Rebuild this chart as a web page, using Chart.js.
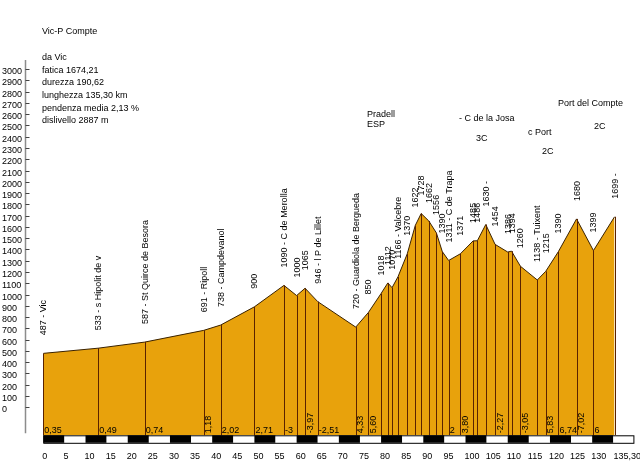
<!DOCTYPE html>
<html>
<head>
<meta charset="utf-8">
<title>Vic-P Compte</title>
<script src="https://cdn.jsdelivr.net/npm/chart.js@4.4.0/dist/chart.umd.min.js"></script>
<style>
    body { margin: 0; background: #fff; }
    #wrap { position: relative; width: 640px; height: 469px; }
</style>
</head>
<body>
<div id="wrap"><canvas id="profileChart"></canvas></div>
<script>
// Route profile: km from start, altitude in m, place names (null = no name)
const distances = [0, 13.0, 24.0, 38.0, 42.0, 50.0, 57.0, 60.0, 62.0, 65.0, 74.0, 77.0, 80.0, 81.6, 82.6, 84.0,
    86.2, 88.1, 89.5, 91.3, 93.1, 94.5, 96.0, 98.8, 101.8, 102.8, 104.8, 107.0, 110.0, 110.9, 113.0, 117.0,
    119.0, 122.0, 126.3, 130.3, 135.3];
const altitudes = [487, 533, 587, 691, 738, 900, 1090, 1000, 1065, 946, 720, 850, 1018, 1112, 1070, 1166,
    1370, 1622, 1728, 1662, 1556, 1390, 1311, 1371, 1485, 1486, 1630, 1454, 1386, 1394, 1260, 1138,
    1215, 1390, 1680, 1399, 1699];
const placeNames = ['Vic', 's Hipolit de v', 'St Quirce de Besora', 'Ripoll', 'Campdevanol', null, 'C de Merolla', null, null, 'l P de Lillet',
    'Guardiola de Bergueda', null, null, null, null, 'Valcebre', null, null, null, null, null, null, 'C de Trapa', null, null, null,
    '', null, null, null, null, 'Tuixent', null, null, null, null, ''];

// Gradient (%) of each segment, null where the original shows none
const gradients = ['0,35', '0,49', '0,74', '1,18', '2,02', '2,71', '-3', null, '-3,97', '-2,51', '4,33', '5,60',
    null, null, null, null, null, null, null, null, null, null, '2', '3,80', null, null, null, '-2,27',
    null, null, '-3,05', null, '5,83', '6,74', '-7,02', '6'];

// Axis ticks
const yTickValues = [0, 100, 200, 300, 400, 500, 600, 700, 800, 900, 1000, 1100, 1200, 1300, 1400, 1500,
    1600, 1700, 1800, 1900, 2000, 2100, 2200, 2300, 2400, 2500, 2600, 2700, 2800, 2900, 3000];
const xTickValues = [0, 5, 10, 15, 20, 25, 30, 35, 40, 45, 50, 55, 60, 65, 70, 75, 80, 85, 90, 95, 100,
    105, 110, 115, 120, 125, 130, 135.3];
const xTickLabels = ['0', '5', '10', '15', '20', '25', '30', '35', '40', '45', '50', '55', '60', '65', '70',
    '75', '80', '85', '90', '95', '100', '105', '110', '115', '120', '125', '130', '135,30'];
const scaleBarEnd = 140;

// Header texts
const routeTitle = 'Vic-P Compte';
const infoLines = ['da Vic', 'fatica 1674,21', 'durezza 190,62', 'lunghezza 135,30 km', 'pendenza media 2,13 %', 'dislivello 2887 m'];
const climbNames = ['Pradell', '- C de la Josa', 'c Port', 'Port del Compte'];
const climbCategories = ['ESP', '3C', '2C', '2C'];

const FONT = '9px "Liberation Sans", Arial, sans-serif';
const FILL = '#E8A20C';
const DROP = '#5a2200';

const profileDecor = {
    id: 'profileDecor',
    afterDatasetsDraw(chart) {
        const ctx = chart.ctx;
        const xs = chart.scales.x;
        const ys = chart.scales.y;
        const bottom = chart.chartArea.bottom;

        ctx.save();

        // drop lines from each point to the bottom
        ctx.strokeStyle = DROP;
        ctx.lineWidth = 1;
        distances.forEach((d, i) => {
            const px = Math.round(xs.getPixelForValue(d)) + 0.5;
            ctx.beginPath();
            ctx.moveTo(px, ys.getPixelForValue(altitudes[i]));
            ctx.lineTo(px, bottom);
            ctx.stroke();
        });

        ctx.font = FONT;
        ctx.fillStyle = '#000';

        // rotated point labels
        distances.forEach((d, i) => {
            const px = xs.getPixelForValue(d);
            const py = ys.getPixelForValue(altitudes[i]);
            let text = String(altitudes[i]);
            if (placeNames[i] !== null) text += ' - ' + placeNames[i];
            ctx.save();
            ctx.translate(px + 0.5, py - 18);
            ctx.rotate(-Math.PI / 2);
            ctx.textAlign = 'left';
            ctx.textBaseline = 'middle';
            ctx.fillText(text, 0, 0);
            ctx.restore();
        });

        // gradient labels, turned upright when the segment is too narrow
        gradients.forEach((g, i) => {
            if (g === null) return;
            const x0 = xs.getPixelForValue(distances[i]);
            const x1 = xs.getPixelForValue(distances[i + 1]);
            const w = ctx.measureText(g).width;
            if (w > x1 - x0) {
                ctx.save();
                ctx.translate(x0 + 5, bottom - 2);
                ctx.rotate(-Math.PI / 2);
                ctx.textAlign = 'left';
                ctx.textBaseline = 'middle';
                ctx.fillText(g, 0, 0);
                ctx.restore();
            } else {
                ctx.textAlign = 'left';
                ctx.textBaseline = 'alphabetic';
                ctx.fillText(g, x0 + 1, bottom - 2.5);
            }
        });

        // km scale bar, alternating 5 km blocks
        const barTop = bottom;
        const barH = 7.5;
        for (let k = 0; k < scaleBarEnd; k += 5) {
            const a = xs.getPixelForValue(k);
            const b = xs.getPixelForValue(k + 5);
            ctx.fillStyle = (k / 5) % 2 === 0 ? '#000' : '#fff';
            ctx.fillRect(a, barTop, b - a, barH);
        }
        ctx.strokeStyle = '#000';
        ctx.strokeRect(xs.getPixelForValue(0) + 0.5, barTop + 0.5, xs.getPixelForValue(scaleBarEnd) - xs.getPixelForValue(0) - 1, barH);

        // km labels
        ctx.fillStyle = '#000';
        ctx.textAlign = 'left';
        ctx.textBaseline = 'middle';
        xTickValues.forEach((v, i) => {
            ctx.fillText(xTickLabels[i], xs.getPixelForValue(v) - 1, 457);
        });

        // altitude axis on the left
        const axisX = 25.5;
        ctx.strokeStyle = '#8c8c8c';
        ctx.lineWidth = 1.5;
        ctx.beginPath();
        ctx.moveTo(axisX, chart.chartArea.top);
        ctx.lineTo(axisX, bottom - 2);
        ctx.stroke();
        ctx.lineWidth = 1;
        ctx.strokeStyle = '#444';
        yTickValues.forEach(v => {
            const py = Math.round(ys.getPixelForValue(v)) - 0.5;
            ctx.beginPath();
            ctx.moveTo(axisX, py);
            ctx.lineTo(axisX + 4, py);
            ctx.stroke();
            ctx.fillText(String(v), 2, py + 2);
        });

        // title and route info
        ctx.fillText(routeTitle, 42, 32);
        infoLines.forEach((t, i) => ctx.fillText(t, 42, 57.5 + i * 12.65));

        // climb names with categories
        const namePos = [[367, 115], [459, 119], [528, 133], [558, 104]];
        const catPos = [[367, 125], [476, 139], [542, 152], [594, 127]];
        climbNames.forEach((n, i) => {
            ctx.fillText(n, namePos[i][0], namePos[i][1]);
            ctx.fillText(climbCategories[i], catPos[i][0], catPos[i][1]);
        });

        ctx.restore();
    }
};

function buildChart() {
    const ctx = document.getElementById('profileChart');
    const points = distances.map((d, i) => ({ x: d, y: altitudes[i] }));

    new Chart(ctx, {
        type: 'line',
        data: {
            datasets: [{
                data: points,
                borderColor: '#3a2200',
                borderWidth: 1,
                backgroundColor: FILL,
                fill: 'start',
                tension: 0,
                pointRadius: 0
            }]
        },
        options: {
            responsive: true,
            maintainAspectRatio: false,
            animation: false,
            layout: {
                padding: { left: 43.3, right: 5.6, top: 60, bottom: 33.7 }
            },
            plugins: {
                legend: { display: false },
                tooltip: { enabled: false }
            },
            scales: {
                x: { type: 'linear', min: 0, max: scaleBarEnd, display: false },
                y: { type: 'linear', min: -240, max: 3090, display: false }
            }
        },
        plugins: [profileDecor]
    });
}

document.addEventListener('DOMContentLoaded', buildChart);
</script>
</body>
</html>
